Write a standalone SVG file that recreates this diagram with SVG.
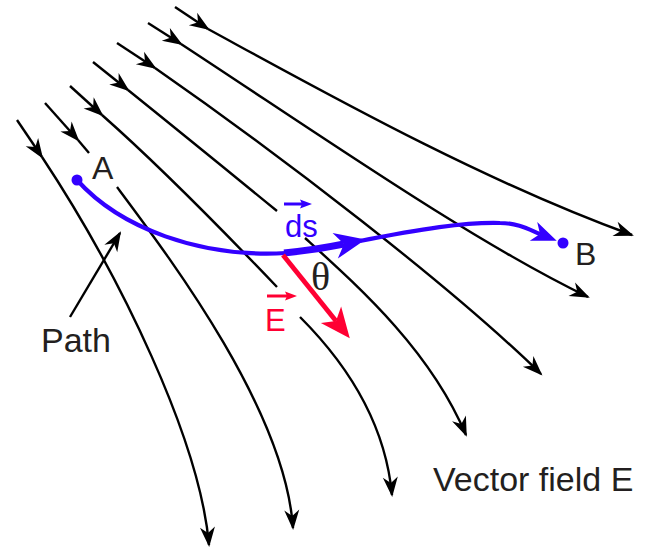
<svg xmlns="http://www.w3.org/2000/svg" width="648" height="556" viewBox="0 0 648 556">
<style>
.fl{fill:none;stroke:#000;stroke-width:2.4}
.lbl{font-family:"Liberation Sans",Arial,Helvetica,sans-serif;fill:#231f20}
.blue{fill:none;stroke:#3300ff}
</style>
<defs>
<marker id="ak" markerUnits="userSpaceOnUse" markerWidth="24" markerHeight="18" refX="18" refY="7.5" orient="auto" overflow="visible">
<path d="M0,0 L20,7.5 L0,15 L6,7.5 Z" fill="#000"/>
</marker>
<marker id="abBig" markerUnits="userSpaceOnUse" markerWidth="34" markerHeight="28" refX="9" refY="13" orient="auto" overflow="visible">
<path d="M0,0 L31,13 L0,26 L9,13 Z" fill="#3300ff"/>
</marker>
<marker id="abSm" markerUnits="userSpaceOnUse" markerWidth="28" markerHeight="22" refX="7" refY="10" orient="auto" overflow="visible">
<path d="M0,0 L25,10 L0,20 L7,10 Z" fill="#3300ff"/>
</marker>
<marker id="ar" markerUnits="userSpaceOnUse" markerWidth="32" markerHeight="28" refX="8" refY="13" orient="auto" overflow="visible">
<path d="M0,0 L30,13 L0,26 L8,13 Z" fill="#ff0033"/>
</marker>
<marker id="abTiny" markerUnits="userSpaceOnUse" markerWidth="14" markerHeight="10" refX="2" refY="4.5" orient="auto" overflow="visible">
<path d="M0,0 L12,4.5 L0,9 L2,4.5 Z" fill="#3300ff"/>
</marker>
<marker id="arTiny" markerUnits="userSpaceOnUse" markerWidth="14" markerHeight="10" refX="2" refY="4.5" orient="auto" overflow="visible">
<path d="M0,0 L12,4.5 L0,9 L2,4.5 Z" fill="#ff0033"/>
</marker>
</defs>
<rect width="648" height="556" fill="#fff"/>

<g id="connectors">
  <g id="field-line-1">
    <path class="fl" d="M17,120 L42,157" marker-end="url(#ak)"/>
    <path class="fl" d="M42,157 C120,275 200,440 209,545" marker-end="url(#ak)"/>
  </g>
  <g id="field-line-2">
    <path class="fl" d="M45,103 L78,140" marker-end="url(#ak)"/>
    <path class="fl" d="M78,140 L89,153"/>
    <path class="fl" d="M117,187 C170,258 285,410 293,528" marker-end="url(#ak)"/>
  </g>
  <g id="field-line-3">
    <path class="fl" d="M70,86 L102,115" marker-end="url(#ak)"/>
    <path class="fl" d="M102,115 Q170,175 277,287"/>
    <path class="fl" d="M300,317 C345,362 385,420 392,495" marker-end="url(#ak)"/>
  </g>
  <g id="field-line-4">
    <path class="fl" d="M93,62 L128,90" marker-end="url(#ak)"/>
    <path class="fl" d="M128,90 Q200,148 277,211"/>
    <path class="fl" d="M305,238 C360,288 430,350 466,435" marker-end="url(#ak)"/>
  </g>
  <g id="field-line-5">
    <path class="fl" d="M117,43 L155,68" marker-end="url(#ak)"/>
    <path class="fl" d="M155,68 C280,155 450,285 541,374" marker-end="url(#ak)"/>
  </g>
  <g id="field-line-6">
    <path class="fl" d="M148,23 L181,44" marker-end="url(#ak)"/>
    <path class="fl" d="M181,44 C320,135 470,240 588,297" marker-end="url(#ak)"/>
  </g>
  <g id="field-line-7">
    <path class="fl" d="M175,7 L208,29" marker-end="url(#ak)"/>
    <path class="fl" d="M208,29 C320,90 480,180 632,235" marker-end="url(#ak)"/>
  </g>
  <g id="path-pointer">
    <path class="fl" d="M70,317 L120,233" marker-end="url(#ak)"/>
  </g>
</g>

<g id="path-curve">
  <path class="blue" stroke-width="4.2" d="M77,180 C120,228 200,258 286,253"/>
  <path class="blue" stroke-width="7" d="M284,253 Q315,250 344,244" marker-end="url(#abBig)"/>
  <path class="blue" stroke-width="4.2" d="M360,241 C420,229 465,222 500,223 C518,223 530,230 540,234" marker-end="url(#abSm)"/>
</g>

<g id="E-vector">
  <path fill="none" stroke="#ff0033" stroke-width="4.8" d="M283,255 L336,321" marker-end="url(#ar)"/>
</g>

<g id="point-A">
  <circle cx="77" cy="180" r="5.5" fill="#3300ff"/>
  <text class="lbl" x="92" y="179" font-size="32">A</text>
</g>
<g id="point-B">
  <circle cx="563" cy="243" r="5.5" fill="#3300ff"/>
  <text class="lbl" x="575" y="265" font-size="32">B</text>
</g>

<g id="label-ds">
  <path class="blue" stroke-width="3" d="M284,204 L302,204" marker-end="url(#abTiny)"/>
  <text x="285" y="237" font-size="31" font-family="Liberation Sans,Arial,sans-serif" fill="#3300ff">ds</text>
</g>
<g id="label-E">
  <path fill="none" stroke="#ff0033" stroke-width="3" d="M267,296 L287,296" marker-end="url(#arTiny)"/>
  <text x="265" y="331" font-size="31" font-family="Liberation Sans,Arial,sans-serif" fill="#ff0033">E</text>
</g>
<g id="label-theta">
  <text x="311" y="290" font-size="40" font-family="Liberation Serif,Times New Roman,serif" fill="#231f20">θ</text>
</g>
<g id="label-path">
  <text class="lbl" x="41" y="352" font-size="34">Path</text>
</g>
<g id="label-field">
  <text class="lbl" x="433" y="491" font-size="34">Vector field E</text>
</g>
</svg>
